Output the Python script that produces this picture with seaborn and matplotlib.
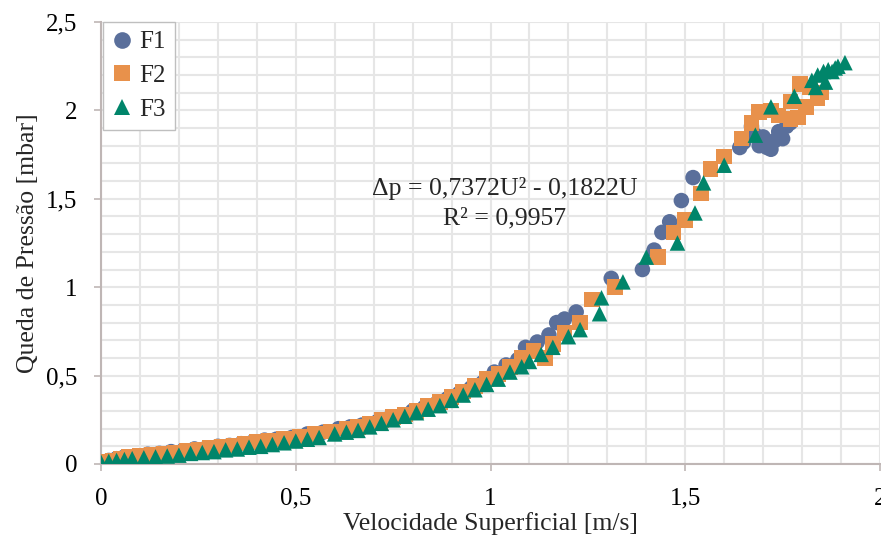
import matplotlib
matplotlib.use("Agg")
import matplotlib.pyplot as plt
from matplotlib.lines import Line2D
from matplotlib.ticker import MultipleLocator, FuncFormatter
import seaborn as sns
import pandas as pd

# ---- data ----
x1 = [0.00,0.02,0.04,0.06,0.09,0.12,0.15,0.18,0.21,0.24,0.27,0.30,0.33,0.36,0.39,0.42,0.45,0.49,0.53,0.57,
      0.61,0.64,0.67,0.71,0.74,0.77,0.80,0.83,0.86,0.89,0.92,0.95,0.98,1.01,1.04,1.07,1.09,1.12,1.15,1.17,
      1.19,1.22,1.31,1.39,1.42,1.44,1.46,1.49,1.52,1.64,1.65,1.67,1.68,1.69,1.70,1.71,1.72,1.73,1.74,1.75,
      1.76,1.77]
y1 = [0.01,0.02,0.03,0.04,0.045,0.055,0.06,0.07,0.075,0.085,0.09,0.10,0.105,0.115,0.125,0.135,0.14,0.15,0.17,0.18,
      0.20,0.21,0.22,0.24,0.26,0.27,0.30,0.32,0.34,0.37,0.40,0.43,0.46,0.52,0.56,0.59,0.66,0.69,0.73,0.80,
      0.82,0.86,1.05,1.10,1.21,1.31,1.37,1.49,1.62,1.79,1.82,1.91,1.86,1.80,1.85,1.79,1.78,1.83,1.88,1.84,
      1.91,1.93]

x2 = [0.00,0.01,0.03,0.05,0.07,0.10,0.13,0.16,0.19,0.22,0.25,0.28,0.31,0.34,0.37,0.40,0.43,0.47,0.51,0.55,
      0.59,0.63,0.66,0.69,0.72,0.75,0.78,0.81,0.84,0.87,0.90,0.93,0.96,0.99,1.02,1.05,1.08,1.11,1.14,1.16,
      1.19,1.23,1.26,1.32,1.43,1.47,1.50,1.54,1.565,1.60,1.645,1.67,1.69,1.72,1.74,1.77,1.77,1.79,1.795,1.81,
      1.82,1.84,1.85]
y2 = [0.005,0.01,0.02,0.03,0.04,0.045,0.05,0.06,0.065,0.075,0.08,0.09,0.095,0.105,0.115,0.125,0.13,0.14,0.155,0.17,
      0.185,0.20,0.21,0.23,0.25,0.265,0.28,0.30,0.33,0.35,0.38,0.41,0.44,0.48,0.51,0.55,0.60,0.64,0.60,0.68,
      0.74,0.80,0.93,1.00,1.17,1.31,1.38,1.53,1.67,1.74,1.84,1.93,1.99,2.00,1.97,2.05,1.95,1.96,2.15,2.02,
      2.13,2.07,2.10]

x3 = [0.00,0.02,0.04,0.06,0.08,0.11,0.14,0.17,0.20,0.23,0.26,0.29,0.32,0.35,0.38,0.41,0.44,0.47,0.50,0.53,
      0.56,0.60,0.63,0.66,0.69,0.72,0.75,0.78,0.81,0.84,0.87,0.90,0.93,0.96,0.99,1.02,1.05,1.08,1.10,1.13,
      1.16,1.20,1.23,1.28,1.285,1.34,1.40,1.48,1.525,1.547,1.60,1.68,1.72,1.78,1.825,1.835,1.84,1.855,1.86,1.867,
      1.877,1.885,1.892,1.91]
y3 = [0.01,0.015,0.02,0.025,0.03,0.035,0.04,0.045,0.05,0.06,0.065,0.07,0.08,0.085,0.095,0.10,0.11,0.12,0.13,0.14,
      0.15,0.17,0.18,0.19,0.21,0.23,0.25,0.27,0.29,0.31,0.33,0.36,0.39,0.42,0.45,0.48,0.52,0.55,0.58,0.62,
      0.66,0.72,0.76,0.85,0.94,1.03,1.17,1.25,1.42,1.59,1.69,1.86,2.02,2.08,2.17,2.13,2.20,2.22,2.16,2.23,
      2.22,2.24,2.25,2.27]

series = ["F1", "F2", "F3"]
equation = "Δp = 0,7372U² - 0,1822U"
r2_text = "R² = 0,9957"

colors = {"F1": "#5A6F9B", "F2": "#E8914B", "F3": "#00856A"}
markers = {"F1": "o", "F2": "s", "F3": "^"}

df = pd.concat([
    pd.DataFrame({"U": x1, "dp": y1, "serie": "F1"}),
    pd.DataFrame({"U": x2, "dp": y2, "serie": "F2"}),
    pd.DataFrame({"U": x3, "dp": y3, "serie": "F3"}),
], ignore_index=True)

sns.set_theme(style="white")
plt.rcParams["font.family"] = ["Liberation Serif", "DejaVu Serif"]

fig = plt.figure(figsize=(8.81, 5.41), dpi=100)
ax = fig.add_axes([101/881, 77/541, 779/881, 442/541])

sns.scatterplot(data=df, x="U", y="dp", hue="serie", style="serie",
                palette=colors, markers=markers, hue_order=series, style_order=series,
                s=125, linewidth=0, ax=ax, legend=False, zorder=3)

ax.set_xlim(0, 2)
ax.set_ylim(0, 2.5)
ax.xaxis.set_major_locator(MultipleLocator(0.5))
ax.yaxis.set_major_locator(MultipleLocator(0.5))
ax.xaxis.set_minor_locator(MultipleLocator(0.1))
ax.yaxis.set_minor_locator(MultipleLocator(0.1))

fmt = FuncFormatter(lambda v, p: (("%g" % v).replace(".", ",")))
ax.xaxis.set_major_formatter(fmt)
ax.yaxis.set_major_formatter(fmt)

ax.grid(True, which="both", color="#E6E6E6", linewidth=1.5, zorder=0)
ax.set_axisbelow(True)

for s in ["top", "right"]:
    ax.spines[s].set_visible(False)
for s in ["left", "bottom"]:
    ax.spines[s].set_color("#BFB6B5")
    ax.spines[s].set_linewidth(1.5)

ax.tick_params(axis="both", which="major", length=5, width=1.2, color="#BFB6B5",
               labelsize=18, labelcolor="black", direction="out")
ax.tick_params(axis="both", which="minor", length=0)
ax.tick_params(axis="x", pad=12)
ax.tick_params(axis="y", pad=12)
ax.tick_params(left=True, bottom=True)

ax.set_xlabel("Velocidade Superficial [m/s]", fontsize=18.5, labelpad=2)
ax.set_ylabel("Queda de Pressão [mbar]", fontsize=18.5, labelpad=5)

ax.text(1.036, 1.561, equation, ha="center", va="center", fontsize=18.5, zorder=5)
ax.text(1.036, 1.391, r2_text, ha="center", va="center", fontsize=18.5, zorder=5)

handles = [Line2D([0], [0], marker=markers[k], color="none", markerfacecolor=colors[k],
                  markeredgewidth=0, markersize=12, label=k) for k in series]
leg = ax.legend(handles=handles, loc="upper left", bbox_to_anchor=(0.003, 1.0),
                frameon=True, fontsize=18, handlelength=0.8, handletextpad=0.3,
                labelspacing=0.45, borderpad=0.35, borderaxespad=0, fancybox=False)
leg.get_frame().set_edgecolor("#BFBFBF")
leg.get_frame().set_linewidth(1.0)
leg.get_frame().set_facecolor("white")
leg.get_frame().set_alpha(1)

fig.savefig("out.png", dpi=100)
